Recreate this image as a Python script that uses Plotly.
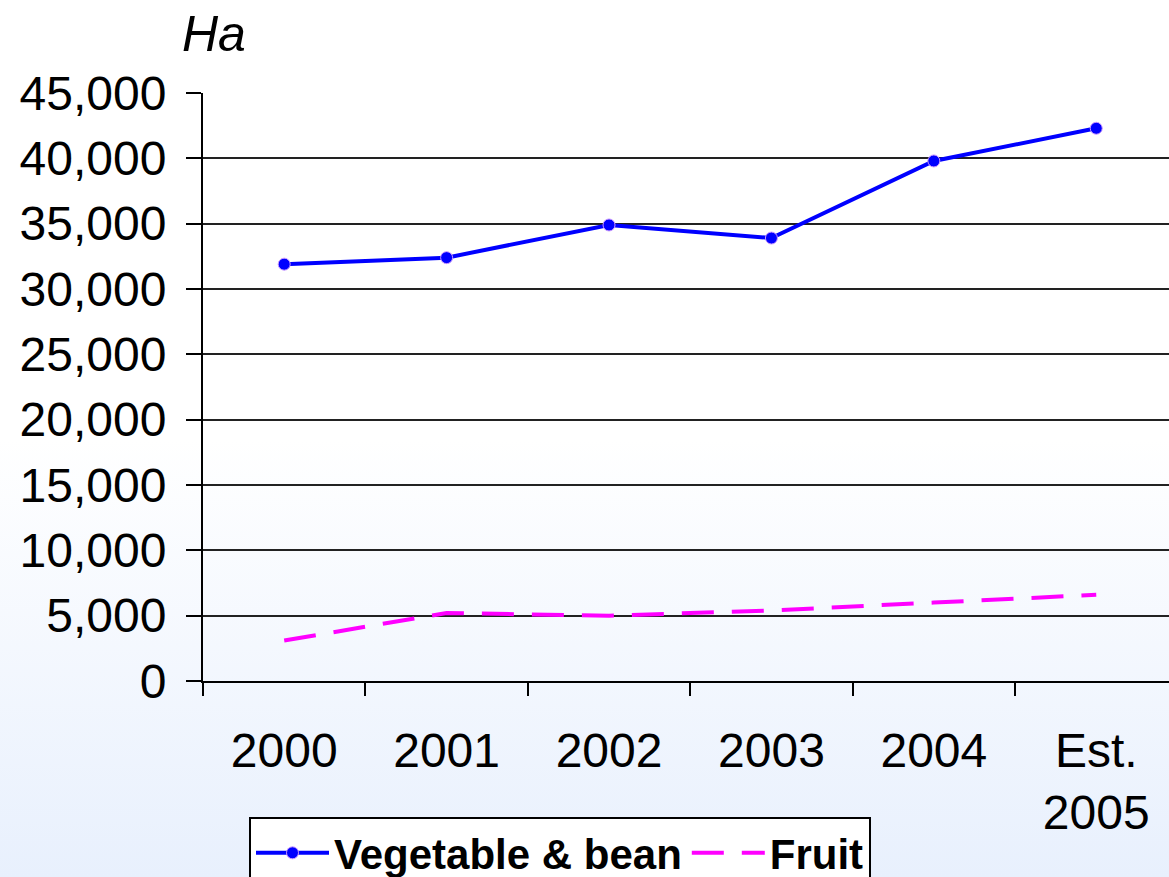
import base64
import plotly.graph_objects as go

categories = ["2000", "2001", "2002", "2003", "2004", "Est.<br>2005"]
vegetable_bean = [31900, 32400, 34900, 33900, 39800, 42300]
fruit = [3100, 5200, 5000, 5400, 6000, 6600]
y_ticks = [0, 5000, 10000, 15000, 20000, 25000, 30000, 35000, 40000, 45000]
y_tick_labels = ["0", "5,000", "10,000", "15,000", "20,000", "25,000",
                 "30,000", "35,000", "40,000", "45,000"]

svg = ('<svg xmlns="http://www.w3.org/2000/svg" width="100" height="100" preserveAspectRatio="none">'
       '<defs><linearGradient id="g" x1="0" y1="0" x2="0" y2="1">'
       '<stop offset="0" stop-color="#ffffff"/><stop offset="0.5" stop-color="#ffffff"/>'
       '<stop offset="1" stop-color="#e8f0fd"/></linearGradient></defs>'
       '<rect width="100" height="100" fill="url(#g)"/></svg>')
bg_uri = "data:image/svg+xml;base64," + base64.b64encode(svg.encode()).decode()

fig = go.Figure()
fig.add_trace(go.Scatter(
    x=categories, y=vegetable_bean, name="Vegetable & bean",
    mode="lines+markers",
    line=dict(color="#0000ff", width=4),
    marker=dict(symbol="circle", size=12, color="#0000ff",
                line=dict(color="#cc99ff", width=1)),
))
fig.add_trace(go.Scatter(
    x=categories, y=fruit, name="Fruit",
    mode="lines",
    line=dict(color="#ff00ff", width=4, dash="32px,18px"),
))

fig.update_layout(
    width=1169, height=877,
    margin=dict(l=203, r=0, t=93, b=196, autoexpand=False),
    paper_bgcolor="rgba(0,0,0,0)",
    plot_bgcolor="rgba(0,0,0,0)",
    font=dict(family="Liberation Sans, Arial, sans-serif", color="black"),
    images=[dict(source=bg_uri, xref="paper", yref="paper",
                 x=-203 / 966, y=1 + 93 / 588, sizex=1169 / 966, sizey=877 / 588,
                 xanchor="left", yanchor="top", sizing="stretch", layer="below")],
    xaxis=dict(
        type="category", categoryorder="array", categoryarray=categories,
        range=[-0.5, 5.448],
        tickson="boundaries", ticks="outside", ticklen=13, tickwidth=2, tickcolor="black",
        showline=True, linecolor="black", linewidth=2,
        showgrid=False, zeroline=False,
        tickfont=dict(size=48, family="Liberation Sans, Arial, sans-serif"),
        ticklabelstandoff=26,
    ),
    yaxis=dict(
        range=[0, 45000], tickvals=y_ticks, ticktext=y_tick_labels,
        ticks="outside", ticklen=15, tickwidth=2, tickcolor="black",
        showline=True, linecolor="black", linewidth=2,
        showgrid=True, gridcolor="#222222", gridwidth=2,
        zeroline=False,
        tickfont=dict(size=48, family="Liberation Sans, Arial, sans-serif"),
        ticklabelstandoff=10,
    ),
    legend=dict(
        orientation="h", xref="container", yref="container",
        x=249 / 1169, y=1 - 817 / 877,
        xanchor="left", yanchor="top",
        bgcolor="white", bordercolor="black", borderwidth=2,
        font=dict(size=42, family="Liberation Sans, Arial, sans-serif", weight="bold"),
        itemwidth=73,
    ),
    annotations=[dict(
        text="<i>Ha</i>", xref="paper", yref="paper",
        x=(180 - 203) / 966, y=1 + (93 - 34) / 588,
        xanchor="left", yanchor="middle", showarrow=False,
        font=dict(size=50, family="Liberation Sans, Arial, sans-serif"),
    )],
)

fig.write_html("out.html", config={"displayModeBar": False},
               post_script="document.body.style.margin='0';document.body.style.overflow='hidden';")
